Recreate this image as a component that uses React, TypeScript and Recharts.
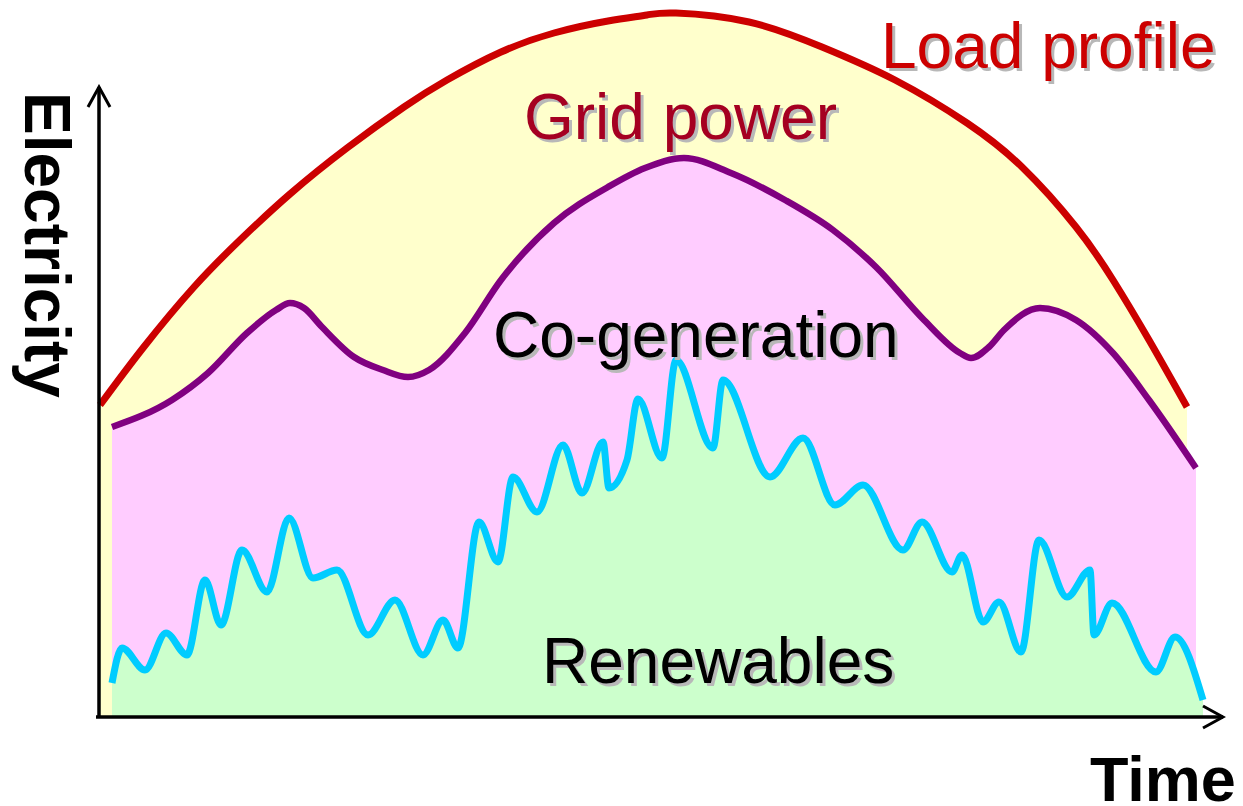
import React from "react";
import { ComposedChart, Area, XAxis, YAxis, ReferenceLine } from "recharts";

// Time positions and values for each series (arbitrary units)
const loadTime = [4, 47, 98, 144, 194, 251, 308, 351, 405, 458, 512, 551, 580, 653, 726, 799, 871, 926, 980, 1017, 1053, 1091];
const loadValues = [312, 369, 430, 477, 523, 569, 610, 637, 665, 684, 696, 702, 704, 695, 670, 637, 594, 550, 490, 437, 377, 310];

const cogenTime = [16, 76, 112, 151, 180, 194, 208, 226, 258, 287, 312, 333, 369, 405, 458, 512, 549, 588, 635, 689, 737, 780, 828, 864, 875, 893, 908, 944, 980, 1017, 1053, 1100];
const cogenValues = [290, 317, 344, 384, 407, 414, 409, 390, 360, 347, 340, 347, 384, 437, 494, 530, 549, 559, 544, 517, 487, 450, 397, 364, 359, 370, 387, 409, 397, 364, 317, 249];

const renewTime = [16, 26, 49, 70, 91, 109, 125, 146, 171, 193, 217, 241, 272, 299, 327, 347, 362, 383, 402, 417, 441, 467, 486, 507, 513, 531, 542, 566, 580, 617, 627, 674, 707, 739, 767, 807, 826, 856, 866, 887, 903, 925, 943, 971, 994, 998, 1016, 1060, 1079, 1107];
const renewValues = [34, 69, 47, 84, 62, 137, 92, 167, 125, 199, 139, 147, 82, 117, 62, 97, 69, 195, 155, 240, 205, 272, 224, 275, 229, 257, 318, 259, 357, 269, 337, 240, 279, 212, 232, 167, 195, 145, 162, 95, 115, 65, 177, 120, 147, 82, 114, 45, 80, 17];

const X_MAX = 1127;
const Y_MAX = 717;
const Y_AXIS_TOP = 630;

type Row = { t: number; load: number | null; cogen: number | null; renew: number | null };

function buildRows(): Row[] {
  const map = new Map<number, Row>();
  const add = (ts: number[], vs: number[], key: "load" | "cogen" | "renew") => {
    ts.forEach((t, i) => {
      const r = map.get(t) ?? { t, load: null, cogen: null, renew: null };
      r[key] = vs[i];
      map.set(t, r);
    });
  };
  add(loadTime, loadValues, "load");
  add(cogenTime, cogenValues, "cogen");
  add(renewTime, renewValues, "renew");
  return Array.from(map.values()).sort((a, b) => a.t - b.t);
}

const rows = buildRows();
const FONT = "'Liberation Sans', Arial, Helvetica, sans-serif";

const ShadowText = ({ x, y, fill, children }: { x: number; y: number; fill: string; children: string }) => (
  <g>
    <text x={x + 3} y={y + 3} fill="#B8B8B8" fontSize={64} fontFamily={FONT}>{children}</text>
    <text x={x} y={y} fill={fill} fontSize={64} fontFamily={FONT}>{children}</text>
  </g>
);

export default function App() {
  return (
    <div style={{ position: "absolute", left: 0, top: 0, width: 1243, height: 806, background: "#fff" }}>
      <ComposedChart width={1243} height={806} data={rows} margin={{ top: 0, right: 20, bottom: 89, left: 96 }}>
        <defs>
          <marker id="axisArrow" viewBox="0 0 26 26" markerWidth={26} markerHeight={26} refX={23} refY={13} orient="auto" markerUnits="userSpaceOnUse">
            <path d="M3,2 L23,13 L3,24" fill="none" stroke="#000" strokeWidth={3} />
          </marker>
        </defs>
        <XAxis type="number" dataKey="t" domain={[0, X_MAX]} allowDataOverflow hide />
        <YAxis type="number" domain={[0, Y_MAX]} allowDataOverflow hide />
        <Area type="natural" dataKey="load" connectNulls fill="#FFFFCC" fillOpacity={1} stroke="#CC0000" strokeWidth={7} isAnimationActive={false} dot={false} activeDot={false} />
        <Area type="monotone" dataKey="cogen" connectNulls fill="#FFCCFF" fillOpacity={1} stroke="#800080" strokeWidth={6.5} isAnimationActive={false} dot={false} activeDot={false} />
        <Area type="monotone" dataKey="renew" connectNulls fill="#CCFFCC" fillOpacity={1} stroke="#00CCFF" strokeWidth={7} isAnimationActive={false} dot={false} activeDot={false} />
        <ReferenceLine segment={[{ x: 0, y: 0 }, { x: X_MAX, y: 0 }]} stroke="#000" strokeWidth={3.5} markerEnd="url(#axisArrow)" />
        <ReferenceLine segment={[{ x: 3, y: 0 }, { x: 3, y: Y_AXIS_TOP }]} stroke="#000" strokeWidth={3.5} markerEnd="url(#axisArrow)" />
      </ComposedChart>
      <svg width={1243} height={806} style={{ position: "absolute", left: 0, top: 0, pointerEvents: "none" }}>
        <ShadowText x={881} y={68} fill="#CC0000">Load profile</ShadowText>
        <ShadowText x={524} y={139} fill="#A50021">Grid power</ShadowText>
        <ShadowText x={493} y={357} fill="#000000">Co-generation</ShadowText>
        <ShadowText x={542} y={683} fill="#000000">Renewables</ShadowText>
        <text x={1090} y={801} fontSize={63} fontWeight="bold" fill="#000" fontFamily={FONT}>Time</text>
        <text transform="translate(25,92) rotate(90)" fontSize={64} fontWeight="bold" fill="#000" fontFamily={FONT}>Electricity</text>
      </svg>
    </div>
  );
}
